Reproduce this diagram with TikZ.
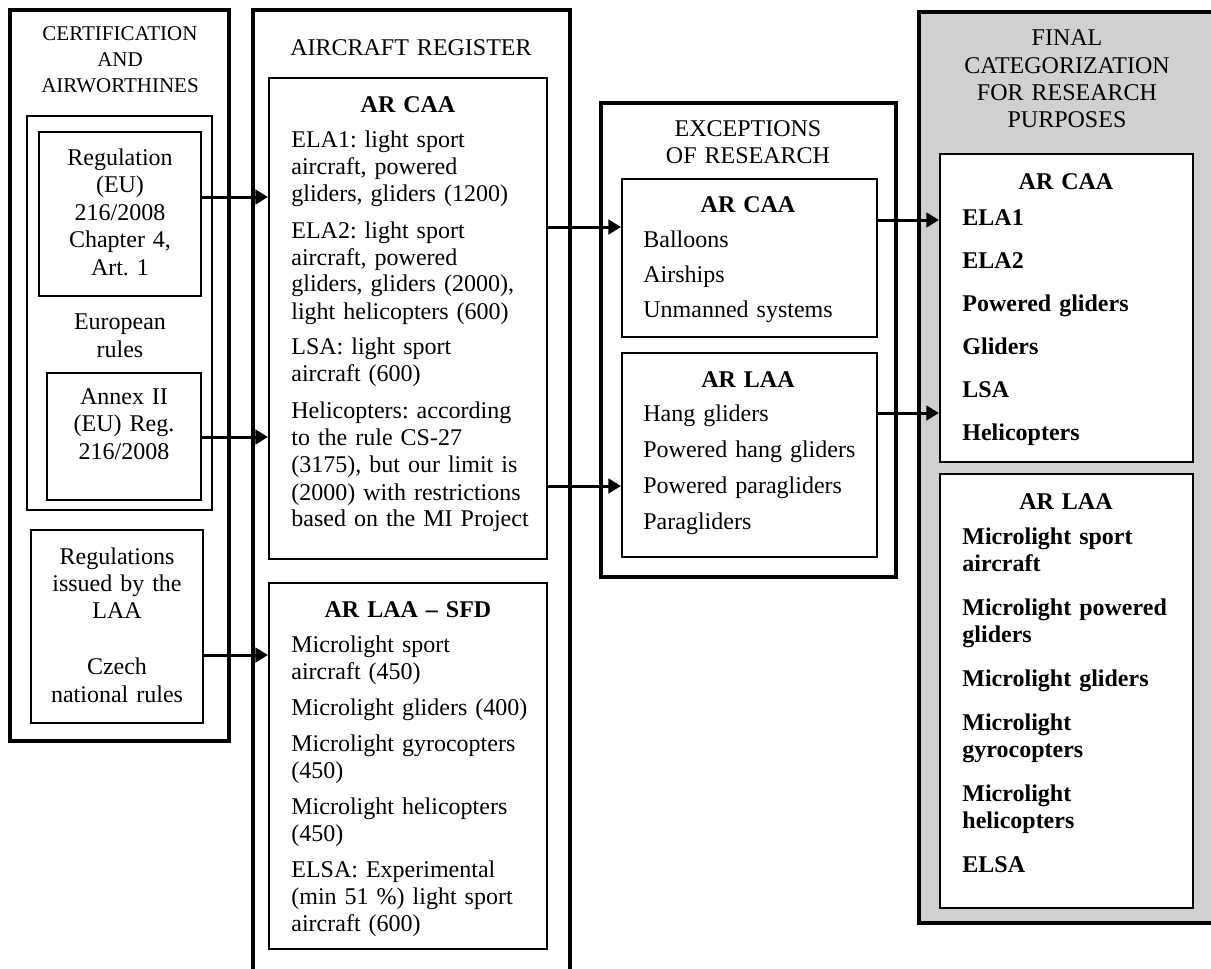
\documentclass[tikz,border=0pt]{standalone}
\usepackage{fontspec}
\setmainfont{Liberation Serif}
\usetikzlibrary{fit,arrows.meta}
\definecolor{finalgray}{RGB}{208,207,209}
\frenchspacing
\begin{document}
\begin{tikzpicture}[x=0.5pt,y=-0.5pt,
  boxouter/.style={draw, line width=1.6pt, inner sep=0pt},
  boxinner/.style={draw, line width=1.05pt, inner sep=0pt, fill=white},
  arr/.style={line width=1.5pt, -{Triangle[length=6.3pt,width=7.3pt]}},
  tx/.style={inner sep=0pt, font=\fontsize{12}{13.5}\selectfont},
  lst/.style={tx, anchor=base west, text width=#1, align=left},
  hdr/.style={tx, anchor=base, text width=#1, align=center},
  boldtxt/.style={font=\fontsize{12}{13.5}\selectfont\bfseries},
]
\useasboundingbox (0,0) rectangle (1211,969);
\clip (0,0) rectangle (1211,969);

% ---------- outer columns ----------
\node[boxouter, fit={(10,10) (229,741)}] (cert) {};
\node[boxouter, fit={(253,10) (570,1000)}] (reg) {};
\node[boxouter, fit={(601,103) (896,577)}] (exc) {};
\node[boxouter, fill=finalgray, line width=1.8pt, fit={(919,12) (1216,923)}] (final) {};

% ---------- inner boxes ----------
\node[boxinner, fit={(27,116) (212,510)}] (euro) {};
\node[boxinner, fit={(39,132) (201,296)}] (regeu) {};
\node[boxinner, fit={(47,373) (201,500)}] (annex) {};
\node[boxinner, fit={(31,530) (203,723)}] (regs) {};
\node[boxinner, fit={(269,78) (547,559)}] (arcaa) {};
\node[boxinner, fit={(269,583) (547,949)}] (arlaa) {};
\node[boxinner, fit={(622,179) (877,337)}] (exccaa) {};
\node[boxinner, fit={(622,353) (877,557)}] (exclaa) {};
\node[boxinner, fit={(940,154) (1193,462)}] (fincaa) {};
\node[boxinner, fit={(940,474) (1193,908)}] (finlaa) {};

% ---------- connectors ----------
\draw[arr] (regeu.east |- 0,197) -- (arcaa.west |- 0,197);
\draw[arr] (annex.east |- 0,437) -- (arcaa.west |- 0,437);
\draw[arr] (regs.east |- 0,655) -- (arlaa.west |- 0,655);
\draw[arr] (arcaa.east |- 0,227) -- (exccaa.west |- 0,227);
\draw[arr] (arcaa.east |- 0,486) -- (exclaa.west |- 0,486);
\draw[arr] (exccaa.east |- 0,220) -- (fincaa.west |- 0,220);
\draw[arr] (exclaa.east |- 0,413) -- (fincaa.west |- 0,413);

% ---------- texts: left column ----------
\node[hdr=110pt, font=\fontsize{10.5}{13}\selectfont] (certh) at (120,40) {CERTIFICATION\\AND\\AIRWORTHINES};
\node[hdr=78pt, font=\fontsize{12}{13.75}\selectfont] (regeut) at (120,165) {Regulation\\(EU)\\216/2008\\Chapter 4,\\Art. 1};
\node[hdr=80pt, font=\fontsize{12}{14}\selectfont] (eurot) at (120,329) {European\\rules};
\node[hdr=72pt, font=\fontsize{12}{13.9}\selectfont] (annext) at (124,404) {Annex II\\(EU) Reg.\\216/2008};
\node[hdr=82pt, font=\fontsize{12}{13.7}\selectfont] (regst) at (117,564) {Regulations\\issued by the\\LAA\\[14.3pt]Czech\\national rules};

% ---------- texts: aircraft register ----------
\node[hdr=150pt] (regh) at (411,55) {AIRCRAFT REGISTER};
\node[hdr=100pt, boldtxt] (arcaah) at (408,112) {AR CAA};
\node[lst=125pt] (arcaat) at (291,147) {ELA1: light sport\\aircraft, powered\\gliders, gliders (1200)\\[5pt]ELA2: light sport\\aircraft, powered\\gliders, gliders (2000),\\light helicopters (600)\\[4.5pt]LSA: light sport\\aircraft (600)\\[5pt]Helicopters: according\\to the rule CS-27\\(3175), but our limit is\\(2000) with restrictions\\based on the MI Project};
\node[hdr=120pt, boldtxt] (arlaah) at (408,617) {AR LAA -- SFD};
\node[lst=125pt] (arlaat) at (291,652) {Microlight sport\\aircraft (450)\\[4.5pt]Microlight gliders (400)\\[4.5pt]Microlight gyrocopters\\(450)\\[4.5pt]Microlight helicopters\\(450)\\[4.5pt]ELSA: Experimental\\(min 51 \%) light sport\\aircraft (600)};

% ---------- texts: exceptions ----------
\node[hdr=140pt] (exch) at (748,136) {EXCEPTIONS\\OF RESEARCH};
\node[hdr=100pt, boldtxt] (exccaah) at (748,212) {AR CAA};
\node[lst=115pt] (exccaat) at (643,247) {Balloons\\[4.2pt]Airships\\[4.2pt]Unmanned systems};
\node[hdr=100pt, boldtxt] (exclaah) at (748,387) {AR LAA};
\node[lst=115pt] (exclaat) at (643,421) {Hang gliders\\[4.5pt]Powered hang gliders\\[4.5pt]Powered paragliders\\[4.5pt]Paragliders};

% ---------- texts: final categorization ----------
\node[hdr=140pt, font=\fontsize{12}{13.65}\selectfont] (finh) at (1067,46) {FINAL\\CATEGORIZATION\\FOR RESEARCH\\PURPOSES};
\node[hdr=100pt, boldtxt] (fincaah) at (1066,189) {AR CAA};
\node[lst=118pt, boldtxt] (fincaat) at (962,225) {ELA1\\[8pt]ELA2\\[8pt]Powered gliders\\[8pt]Gliders\\[8pt]LSA\\[8pt]Helicopters};
\node[hdr=100pt, boldtxt] (finlaah) at (1066,509) {AR LAA};
\node[lst=118pt, boldtxt] (finlaat) at (962,544) {Microlight sport\\aircraft\\[8.5pt]Microlight powered\\gliders\\[8.5pt]Microlight gliders\\[8.5pt]Microlight\\gyrocopters\\[8.5pt]Microlight\\helicopters\\[8.5pt]ELSA};
\end{tikzpicture}
\end{document}
